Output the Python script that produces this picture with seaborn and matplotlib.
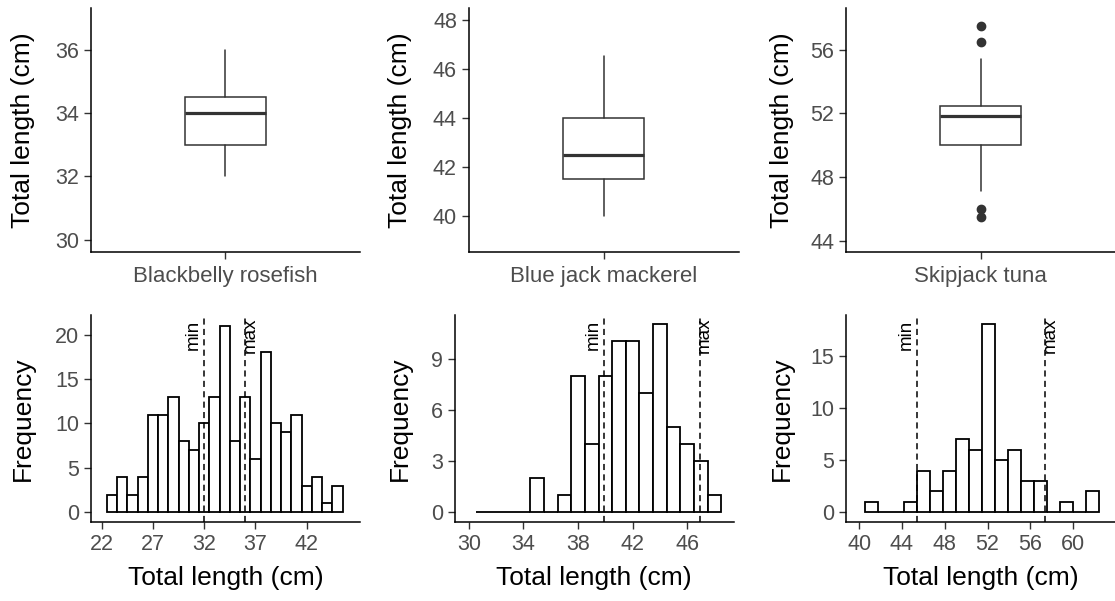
import numpy as np
import pandas as pd
import matplotlib
matplotlib.use('Agg')
import matplotlib.pyplot as plt
import matplotlib.transforms as mtransforms
import seaborn as sns

sns.set_style('ticks')
plt.rcParams['font.family'] = ['Liberation Sans', 'DejaVu Sans']

W, H = 1115, 601
DPI = 100

species = ['Blackbelly rosefish', 'Blue jack mackerel', 'Skipjack tuna']

# top row: box plot summaries (cm)
box_q1 = [33.0, 41.5, 50.0]
box_med = [34.0, 42.5, 51.8]
box_q3 = [34.5, 44.0, 52.43]
whisk_lo = [32.0, 40.0, 47.1]
whisk_hi = [36.0, 46.55, 55.4]
outliers = [[], [], [57.47, 56.48, 46.0, 45.45]]
box_ylim = [(29.63, 37.3), (38.53, 48.48), (43.3, 58.6)]
box_yticks = [[30, 32, 34, 36], [40, 42, 44, 46, 48], [44, 48, 52, 56]]

# bottom row: length-frequency histograms
bb_counts = [2, 4, 2, 4, 11, 11, 13, 8, 7, 10, 13, 21, 8, 13, 6, 18, 10, 9, 11, 3, 4, 1, 3]
bj_counts = [0, 0, 0, 0, 2, 0, 1, 8, 4, 8, 10, 10, 7, 11, 5, 4, 3, 1]
sj_counts = [1, 0, 0, 1, 4, 2, 4, 7, 6, 18, 5, 6, 3, 3, 0, 1, 0, 2]
hist_counts = [bb_counts, bj_counts, sj_counts]
bin_start = [22.5, 30.5, 40.53]
bin_width = [1.0, 1.0, 1.215]
min_line = [32.0, 39.9, 45.45]
max_line = [36.0, 46.9, 57.4]
hist_xlim = [(20.93, 47.2), (28.97, 49.4), (38.75, 63.9)]
hist_ylim = [(-1.05, 22.2), (-0.55, 11.55), (-0.9, 18.9)]
hist_xticks = [[22, 27, 32, 37, 42], [30, 34, 38, 42, 46], [40, 44, 48, 52, 56, 60]]
hist_yticks = [[0, 5, 10, 15, 20], [0, 3, 6, 9], [0, 5, 10, 15]]

# panel boxes in pixels: left, top, right, bottom
top_boxes = [(90.7, 8.3, 360, 251.7), (468.7, 8.3, 738.7, 251.7), (846.3, 8.3, 1115, 251.7)]
bot_boxes = [(90.7, 315, 360, 521.7), (454.7, 315, 733.7, 521.7), (845.7, 315, 1115, 521.7)]
title_right = [35, 412, 794]

TICK_COL = '#4D4D4D'
LINE_COL = '#333333'


def add_px_axes(fig, box):
    l, t, r, b = box
    return fig.add_axes([l / W, 1 - b / H, (r - l) / W, (b - t) / H])


def style_axes(ax):
    sns.despine(ax=ax)
    for s in ['left', 'bottom']:
        ax.spines[s].set_linewidth(1.1)
        ax.spines[s].set_color('black')
        ax.spines[s].set_clip_on(False)
    ax.tick_params(axis='both', length=5, width=1.0, color=LINE_COL,
                   labelcolor=TICK_COL, labelsize=15.5, pad=3.5)


fig = plt.figure(figsize=(W / DPI, H / DPI), dpi=DPI)

# top row
for i in range(3):
    ax = add_px_axes(fig, top_boxes[i])
    stats = [dict(med=box_med[i], q1=box_q1[i], q3=box_q3[i],
                  whislo=whisk_lo[i], whishi=whisk_hi[i], fliers=outliers[i])]
    ax.bxp(stats, positions=[0], widths=0.3, showcaps=False, patch_artist=True,
           boxprops=dict(facecolor='white', edgecolor=LINE_COL, linewidth=1.1),
           whiskerprops=dict(color=LINE_COL, linewidth=1.1),
           medianprops=dict(color=LINE_COL, linewidth=2.3),
           flierprops=dict(marker='o', markerfacecolor=LINE_COL,
                           markeredgecolor=LINE_COL, markersize=6))
    ax.set_xlim(-0.5, 0.5)
    ax.set_ylim(*box_ylim[i])
    ax.set_yticks(box_yticks[i])
    ax.set_xticks([0])
    ax.set_xticklabels([species[i]])
    style_axes(ax)
    ax.tick_params(axis='x', labelsize=16, pad=5)
    ax.set_ylabel('Total length (cm)', fontsize=19, color='black')
    l, t, r, b = top_boxes[i]
    ax.yaxis.set_label_coords((title_right[i] - l) / (r - l), 0.5)

# bottom row
for i in range(3):
    ax = add_px_axes(fig, bot_boxes[i])
    counts = hist_counts[i]
    edges = bin_start[i] + bin_width[i] * np.arange(len(counts) + 1)
    centers = (edges[:-1] + edges[1:]) / 2
    df = pd.DataFrame({'length': centers, 'n': counts})
    sns.histplot(data=df, x='length', weights='n', bins=list(edges), ax=ax,
                 color='white', edgecolor='black', linewidth=1.3, alpha=1)
    trans = mtransforms.blended_transform_factory(ax.transData, ax.transAxes)
    for xv in [min_line[i], max_line[i]]:
        ax.axvline(xv, color='black', linewidth=1.1, linestyle=(0, (4, 2.8)))
    t_min = mtransforms.offset_copy(trans, fig=fig, x=-11, y=0, units='dots')
    t_max = mtransforms.offset_copy(trans, fig=fig, x=5, y=0, units='dots')
    ax.text(min_line[i], 0.903, 'min', transform=t_min, rotation=90,
            ha='center', va='center', fontsize=13.5, color='black')
    ax.text(max_line[i], 0.903, 'max', transform=t_max, rotation=90,
            ha='center', va='center', fontsize=13.5, color='black')
    ax.set_xlim(*hist_xlim[i])
    ax.set_ylim(*hist_ylim[i])
    ax.set_xticks(hist_xticks[i])
    ax.set_yticks(hist_yticks[i])
    style_axes(ax)
    ax.set_xlabel('Total length (cm)', fontsize=19, color='black')
    ax.set_ylabel('Frequency', fontsize=19, color='black')
    l, t, r, b = bot_boxes[i]
    ax.yaxis.set_label_coords((title_right[i] - l) / (r - l), 0.5)
    ax.xaxis.set_label_coords(0.5, -(566 - b) / (b - t))

fig.savefig('out.png', dpi=DPI)
